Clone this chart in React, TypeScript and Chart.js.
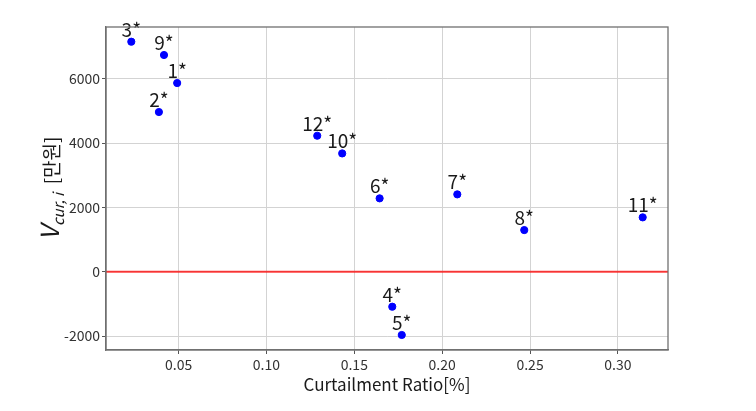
import { useEffect, useRef } from 'react';
import { Chart, registerables, type ChartConfiguration, type Plugin } from 'chart.js';

Chart.register(...registerables);

const FONT = '"Noto Sans CJK KR", "Noto Sans", sans-serif';

const labels = ['1*', '2*', '3*', '4*', '5*', '6*', '7*', '8*', '9*', '10*', '11*', '12*'];
const ratios = [0.0492, 0.0388, 0.0231, 0.1716, 0.177, 0.1644, 0.2086, 0.2467, 0.0417, 0.1431, 0.3141, 0.1289];
const values = [5866, 4964, 7151, -1089, -1968, 2280, 2404, 1294, 6737, 3677, 1689, 4227];
const xTicks = [0.05, 0.1, 0.15, 0.2, 0.25, 0.3];
const yTicks = [-2000, 0, 2000, 4000, 6000];

const X_MIN = 0.0087;
const X_MAX = 0.3285;
const Y_MIN = -2435;
const Y_MAX = 7608;

const pointLabels: Plugin = {
    id: 'pointLabels',
    afterDatasetsDraw(chart) {
        const { ctx } = chart;
        const meta = chart.getDatasetMeta(1);
        ctx.save();
        ctx.font = `19px ${FONT}`;
        ctx.fillStyle = '#1a1a1a';
        ctx.textAlign = 'center';
        ctx.textBaseline = 'alphabetic';
        meta.data.forEach((el, i) => {
            ctx.fillText(labels[i], el.x, el.y - 5);
        });
        ctx.restore();
    },
};

// full box around the plot, like matplotlib spines
const frame: Plugin = {
    id: 'frame',
    afterDraw(chart) {
        const { ctx, chartArea: a } = chart;
        ctx.save();
        ctx.strokeStyle = '#707070';
        ctx.lineWidth = 1.3;
        ctx.strokeRect(a.left, a.top, a.right - a.left, a.bottom - a.top);
        ctx.restore();
    },
};

const yTitle: Plugin = {
    id: 'yTitle',
    afterDraw(chart) {
        const { ctx, chartArea } = chart;
        const cy = (chartArea.top + chartArea.bottom) / 2;
        ctx.save();
        ctx.translate(51, cy);
        ctx.rotate(-Math.PI / 2);
        ctx.fillStyle = '#1a1a1a';
        ctx.textBaseline = 'alphabetic';
        const parts = [
            { t: 'V', f: `italic 25px ${FONT}`, dy: 0 },
            { t: 'cur, i', f: `italic 15px ${FONT}`, dy: 5 },
            { t: '  [만원]', f: `19px ${FONT}`, dy: 0 },
        ];
        let total = 0;
        for (const p of parts) {
            ctx.font = p.f;
            total += ctx.measureText(p.t).width;
        }
        let x = -total / 2;
        for (const p of parts) {
            ctx.font = p.f;
            ctx.fillText(p.t, x, 8 + p.dy);
            x += ctx.measureText(p.t).width;
        }
        ctx.restore();
    },
};

export default function App() {
    const canvasRef = useRef<HTMLCanvasElement>(null);
    const chartRef = useRef<Chart | null>(null);

    useEffect(() => {
        document.body.style.margin = '0';
        if (!canvasRef.current) return;
        if (chartRef.current) chartRef.current.destroy();

        const config: ChartConfiguration = {
            type: 'scatter',
            data: {
                datasets: [
                    {
                        type: 'line',
                        data: [{ x: X_MIN, y: 0 }, { x: X_MAX, y: 0 }],
                        borderColor: 'rgba(255,0,0,0.75)',
                        borderWidth: 2,
                        pointRadius: 0,
                    },
                    {
                        data: ratios.map((r, i) => ({ x: r, y: values[i] })),
                        backgroundColor: '#0000ff',
                        borderColor: '#0000ff',
                        pointRadius: 3.6,
                    },
                ],
            },
            options: {
                animation: false,
                responsive: false,
                layout: { padding: { left: 0, right: 88, top: 27, bottom: 0 } },
                plugins: { legend: { display: false }, tooltip: { enabled: false } },
                scales: {
                    x: {
                        type: 'linear',
                        min: X_MIN,
                        max: X_MAX,
                        afterBuildTicks: (s) => { s.ticks = xTicks.map((v) => ({ value: v })); },
                        afterFit: (s) => { s.height = 61; },
                        grid: { color: '#d3d3d3', lineWidth: 1, tickLength: 4, tickColor: '#555' },
                        border: { color: '#707070', width: 1.3 },
                        ticks: {
                            padding: 2,
                            color: '#333',
                            font: { family: FONT, size: 14 },
                            callback: (v) => Number(v).toFixed(2),
                        },
                        title: {
                            display: true,
                            text: 'Curtailment Ratio[%]',
                            color: '#1a1a1a',
                            font: { family: FONT, size: 17 },
                            padding: { top: 0, bottom: 16 },
                        },
                    },
                    y: {
                        type: 'linear',
                        min: Y_MIN,
                        max: Y_MAX,
                        afterBuildTicks: (s) => { s.ticks = yTicks.map((v) => ({ value: v })); },
                        afterFit: (s) => { s.width = 106; },
                        grid: { color: '#d3d3d3', lineWidth: 1, tickLength: 4, tickColor: '#555' },
                        border: { color: '#707070', width: 1.3 },
                        ticks: {
                            padding: 2,
                            color: '#333',
                            font: { family: FONT, size: 14 },
                            callback: (v) => String(v),
                        },
                    },
                },
            },
            plugins: [pointLabels, frame, yTitle],
        };

        chartRef.current = new Chart(canvasRef.current, config);
        return () => {
            chartRef.current?.destroy();
            chartRef.current = null;
        };
    }, []);

    return (
        <div style={{ position: 'relative', width: 756, height: 411 }}>
            <canvas ref={canvasRef} width={756} height={411} />
        </div>
    );
}
